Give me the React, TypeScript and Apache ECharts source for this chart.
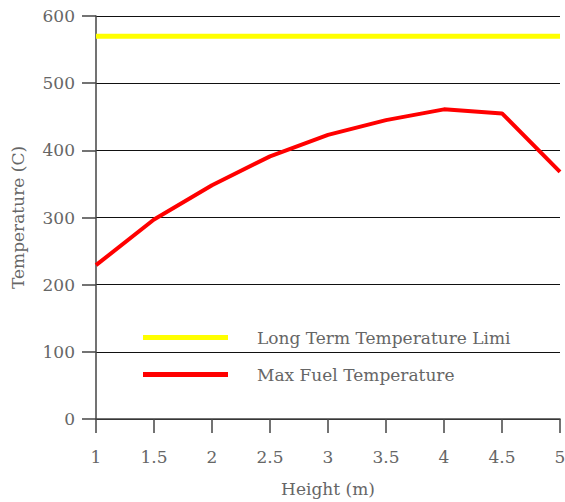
import React, { useEffect, useRef } from "react";
import * as echarts from "echarts";

const heights = [1, 1.5, 2, 2.5, 3, 3.5, 4, 4.5, 5];
const maxFuelTemp = [229, 297, 348, 391, 423, 445, 461, 455, 368];
const limitTemp = [570, 570];
const limitX = [1, 5];
const limitName = "Long Term Temperature Limi";
const fuelName = "Max Fuel Temperature";

const FONT = "DejaVu Serif";
const TXT = "#666";

export default function App() {
  const ref = useRef<HTMLDivElement>(null);
  useEffect(() => {
    if (!ref.current) return;
    const chart = echarts.init(ref.current, null, { renderer: "svg" });
    chart.setOption({
      animation: false,
      backgroundColor: "#fff",
      grid: { left: 96, right: 5, top: 16, bottom: 83, containLabel: false, outerBoundsMode: "none" },
      legend: {
        orient: "vertical",
        left: 138,
        top: 324,
        itemWidth: 85,
        itemHeight: 5,
        itemGap: 20,
        icon: "rect",
        textStyle: { fontFamily: FONT, fontSize: 17, color: TXT, padding: [0, 0, 0, 24] },
        data: [limitName, fuelName],
      },
      xAxis: {
        type: "value",
        min: 1,
        max: 5,
        interval: 0.5,
        name: "Height (m)",
        nameLocation: "middle",
        nameGap: 61,
        nameTextStyle: { fontFamily: FONT, fontSize: 17, color: TXT },
        axisLine: { lineStyle: { color: "#444", width: 1.5 } },
        axisTick: { show: true, length: 14, lineStyle: { color: "#444", width: 1.5 } },
        axisLabel: { margin: 29, fontFamily: FONT, fontSize: 17, color: TXT },
        splitLine: { show: false },
      },
      yAxis: {
        type: "value",
        min: 0,
        max: 600,
        interval: 100,
        name: "Temperature (C)",
        nameLocation: "middle",
        nameGap: 70,
        nameTextStyle: { fontFamily: FONT, fontSize: 17, color: TXT },
        axisLine: { show: true, lineStyle: { color: "#444", width: 1.5 } },
        axisTick: { show: true, length: 14, lineStyle: { color: "#444", width: 1.5 } },
        axisLabel: { margin: 21, fontFamily: FONT, fontSize: 17, color: TXT },
        splitLine: { show: true, lineStyle: { color: "#111", width: 1 } },
      },
      series: [
        {
          name: limitName,
          type: "line",
          data: limitX.map((x, i) => [x, limitTemp[i]]),
          showSymbol: false,
          symbol: "none",
          lineStyle: { color: "#ffff00", width: 5 },
          itemStyle: { color: "#ffff00" },
        },
        {
          name: fuelName,
          type: "line",
          data: heights.map((x, i) => [x, maxFuelTemp[i]]),
          showSymbol: false,
          symbol: "none",
          lineStyle: { color: "#ff0000", width: 4 },
          itemStyle: { color: "#ff0000" },
        },
      ],
    });
    return () => chart.dispose();
  }, []);
  return (
    <div
      ref={ref}
      style={{ position: "absolute", left: 0, top: 0, width: 565, height: 502 }}
    />
  );
}
